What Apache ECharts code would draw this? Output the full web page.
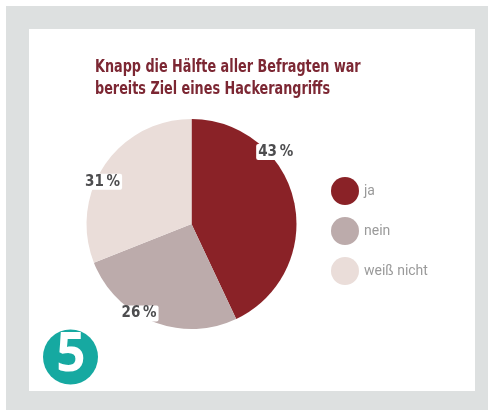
<!DOCTYPE html>
<html>
<head>
<meta charset="utf-8">
<script src="https://cdn.jsdelivr.net/npm/echarts@6/dist/echarts.min.js"></script>
<style>
html,body{margin:0;padding:0;background:#ffffff;}
#chart{width:491px;height:412px;}
</style>
</head>
<body>
<div id="chart"></div>
<script>
// ---- data ----
var categories = ['ja', 'nein', 'weiß nicht'];
var values = [43, 26, 31];
var titleLines = ['Knapp die Hälfte aller Befragten war', 'bereits Ziel eines Hackerangriffs'];
var badgeText = '5';

// ---- styling / layout (not data) ----
var colors = ['#8a2227', '#bcabab', '#eaddd9'];
var labelShift = [[30, -60], [-32, 38], [-43, -11]];
var condensed = '"Liberation Sans Narrow", "DejaVu Sans Condensed", sans-serif';

var chart = echarts.init(document.getElementById('chart'), null, {renderer: 'canvas'});
var option = {
  animation: false,
  backgroundColor: '#ffffff',
  color: colors,
  graphic: [
    {type: 'rect', z: -10, shape: {x: 6, y: 6, width: 482, height: 404}, style: {fill: '#dde0e0'}},
    {type: 'rect', z: -9, shape: {x: 29, y: 29, width: 446, height: 362}, style: {fill: '#ffffff'}},
    {type: 'text', z: 5, x: 95, y: 56, scaleX: 0.79,
      style: {text: titleLines.join('\n'), fill: '#7c2733', font: 'bold 18px ' + condensed, lineHeight: 22, textAlign: 'left', textVerticalAlign: 'top'}},
    {type: 'circle', z: 10, shape: {cx: 70.5, cy: 357, r: 27.5}, style: {fill: '#16a9a1'}},
    {type: 'text', z: 11, x: 71, y: 356, scaleX: 0.95,
      style: {text: badgeText, fill: '#ffffff', font: 'bold 54px "Open Sans", sans-serif', textAlign: 'center', textVerticalAlign: 'middle'}}
  ],
  legend: {
    orient: 'vertical',
    left: 326,
    top: 172,
    icon: 'circle',
    itemWidth: 28,
    itemHeight: 28,
    itemGap: 12,
    data: categories,
    textStyle: {color: '#9a9a9a', fontSize: 14, fontFamily: 'Roboto, sans-serif'}
  },
  series: [{
    type: 'pie',
    center: [191.5, 224],
    radius: [0, 105],
    startAngle: 90,
    clockwise: true,
    silent: true,
    itemStyle: {borderWidth: 0},
    label: {
      show: true,
      position: 'inside',
      formatter: function (p) { return p.value + '\u2009%'; },
      color: '#4d4d4f',
      fontFamily: condensed,
      fontWeight: 'bold',
      fontSize: 15,
      backgroundColor: '#ffffff',
      padding: [1, 2, 0, 2],
      borderRadius: 2
    },
    labelLayout: function (p) {
      var s = labelShift[p.dataIndex];
      return {dx: s[0], dy: s[1]};
    },
    data: categories.map(function (c, i) { return {name: c, value: values[i]}; })
  }]
};
chart.setOption(option);
</script>
</body>
</html>
